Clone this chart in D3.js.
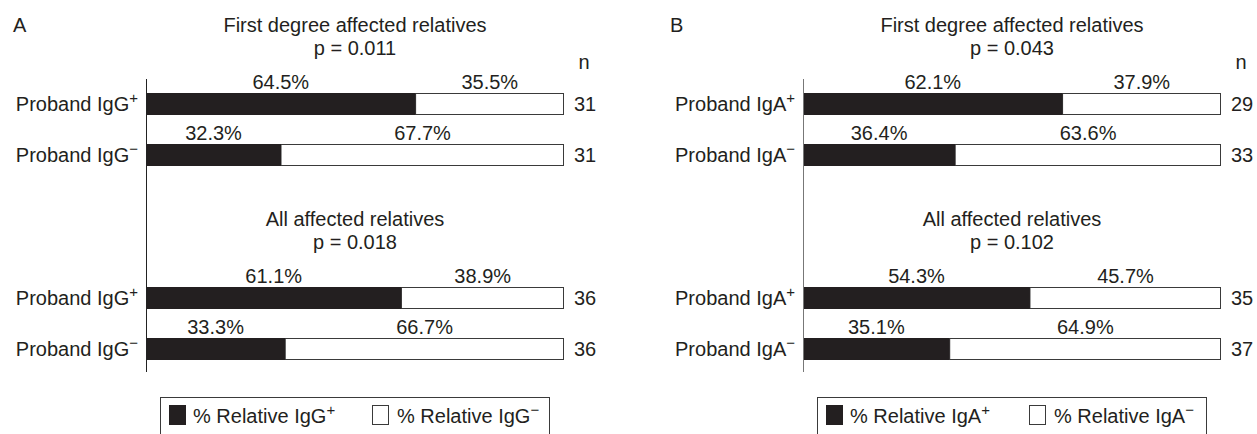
<!DOCTYPE html>
<html>
<head>
<meta charset="utf-8">
<script src="https://cdn.jsdelivr.net/npm/d3@7"></script>
<style>
  html, body { margin: 0; padding: 0; background: #fff; }
  svg { display: block; }
  text { font-family: "Liberation Sans", Arial, sans-serif; fill: #231f20; }
</style>
</head>
<body>
<svg id="chart" width="1257" height="434"></svg>
<script>
// Panels and the antibody each one reports
const panelLetters = ["A", "B"];
const antibodies = ["IgG", "IgA"];

// Relative groupings (sub-charts inside each panel)
const groupTitles = ["First degree affected relatives", "All affected relatives"];
const pValuesA = ["0.011", "0.018"];
const pValuesB = ["0.043", "0.102"];

// Proband status rows inside each grouping
const probandSigns = ["+", "\u2212"];

// % of relatives positive / negative, row order: group1 +, group1 −, group2 +, group2 −
const positiveA = [64.5, 32.3, 61.1, 33.3];
const negativeA = [35.5, 67.7, 38.9, 66.7];
const nA = [31, 31, 36, 36];

const positiveB = [62.1, 36.4, 54.3, 35.1];
const negativeB = [37.9, 63.6, 45.7, 64.9];
const nB = [29, 33, 35, 37];

const ink = "#231f20";
const svg = d3.select("#chart");

// Horizontal placement of each panel's bar origin
const panelX = d3.scalePoint().domain(panelLetters).range([146, 803]);
const x = d3.scaleLinear().domain([0, 100]).range([0, 418]);

// Vertical placement: grouping band, then row band inside it
const yGroup = d3.scaleBand().domain(groupTitles).range([93, 93 + 388]);
const yRow = d3.scaleBand().domain(probandSigns).range([0, 72]).paddingInner(30 / 51);
const barH = yRow.bandwidth();

const panelData = [
  { letter: "A", ab: antibodies[0], p: pValuesA, pos: positiveA, neg: negativeA, n: nA },
  { letter: "B", ab: antibodies[1], p: pValuesB, pos: positiveB, neg: negativeB, n: nB }
];

function labelWithSup(sel, base, sup, supSize, dy) {
  sel.append("tspan").text(base);
  sel.append("tspan").attr("dy", dy).attr("font-size", supSize).text(sup);
}

panelData.forEach(pd => {
  const g = svg.append("g").attr("transform", `translate(${panelX(pd.letter)},0)`);
  const W = x(100);

  // Panel letter
  g.append("text").attr("x", -133).attr("y", 32).attr("font-size", 20).text(pd.letter);

  // "n" header
  g.append("text").attr("x", W + 20).attr("y", 69).attr("font-size", 20)
    .attr("text-anchor", "middle").text("n");

  // Vertical axis line
  const yTop = yGroup(groupTitles[0]) - 14;
  const yBot = yGroup(groupTitles[1]) + yRow(probandSigns[1]) + barH + 13;
  g.append("line").attr("x1", 0.5).attr("x2", 0.5).attr("y1", yTop).attr("y2", yBot)
    .attr("stroke", pd.letter === "A" ? "#222" : "#777").attr("stroke-width", 1);

  groupTitles.forEach((title, gi) => {
    const gy = yGroup(title);
    g.append("text").attr("x", W / 2).attr("y", gy - 61).attr("font-size", 20)
      .attr("text-anchor", "middle").text(title);
    g.append("text").attr("x", W / 2).attr("y", gy - 38).attr("font-size", 20)
      .attr("text-anchor", "middle").text("p = " + pd.p[gi]);

    probandSigns.forEach((sign, ri) => {
      const i = gi * 2 + ri;
      const by = gy + yRow(sign);
      const pos = pd.pos[i], neg = pd.neg[i];

      // Negative (white) segment with outline, then positive (black) segment
      g.append("rect").attr("x", x(pos)).attr("y", by + 0.5)
        .attr("width", x(pos + neg) - x(pos) - 0.5).attr("height", barH)
        .attr("fill", "#fff").attr("stroke", "#3a3a3a").attr("stroke-width", 1);
      g.append("rect").attr("x", x(0) + 1).attr("y", by)
        .attr("width", x(pos) - x(0) - 1).attr("height", barH + 1)
        .attr("fill", ink);

      // Percent labels centred over each segment
      g.append("text").attr("x", (x(0) + x(pos)) / 2).attr("y", by - 4)
        .attr("font-size", 20).attr("text-anchor", "middle").text(pos.toFixed(1) + "%");
      g.append("text").attr("x", (x(pos) + x(pos + neg)) / 2).attr("y", by - 4)
        .attr("font-size", 20).attr("text-anchor", "middle").text(neg.toFixed(1) + "%");

      // Row label
      const lbl = g.append("text").attr("x", -8).attr("y", by + barH / 2 + 7)
        .attr("font-size", 20).attr("text-anchor", "end");
      labelWithSup(lbl, "Proband " + pd.ab, sign, 15, -8);

      // Sample size
      g.append("text").attr("x", W + 10).attr("y", by + barH / 2 + 7)
        .attr("font-size", 20).text(pd.n[i]);
    });
  });

  // Legend
  const lg = g.append("g").attr("transform", "translate(14,397)");
  lg.append("rect").attr("x", 0.5).attr("y", 0.5).attr("width", 389).attr("height", 50)
    .attr("fill", "none").attr("stroke", "#3a3a3a").attr("stroke-width", 1);
  lg.append("rect").attr("x", 9).attr("y", 8).attr("width", 17).attr("height", 20).attr("fill", ink);
  const t1 = lg.append("text").attr("x", 33).attr("y", 26).attr("font-size", 20);
  labelWithSup(t1, "% Relative " + pd.ab, "+", 15, -8);
  lg.append("rect").attr("x", 212.5).attr("y", 8.5).attr("width", 16).attr("height", 19)
    .attr("fill", "#fff").attr("stroke", "#3a3a3a").attr("stroke-width", 1);
  const t2 = lg.append("text").attr("x", 237).attr("y", 26).attr("font-size", 20);
  labelWithSup(t2, "% Relative " + pd.ab, "\u2212", 15, -8);
});
</script>
</body>
</html>
